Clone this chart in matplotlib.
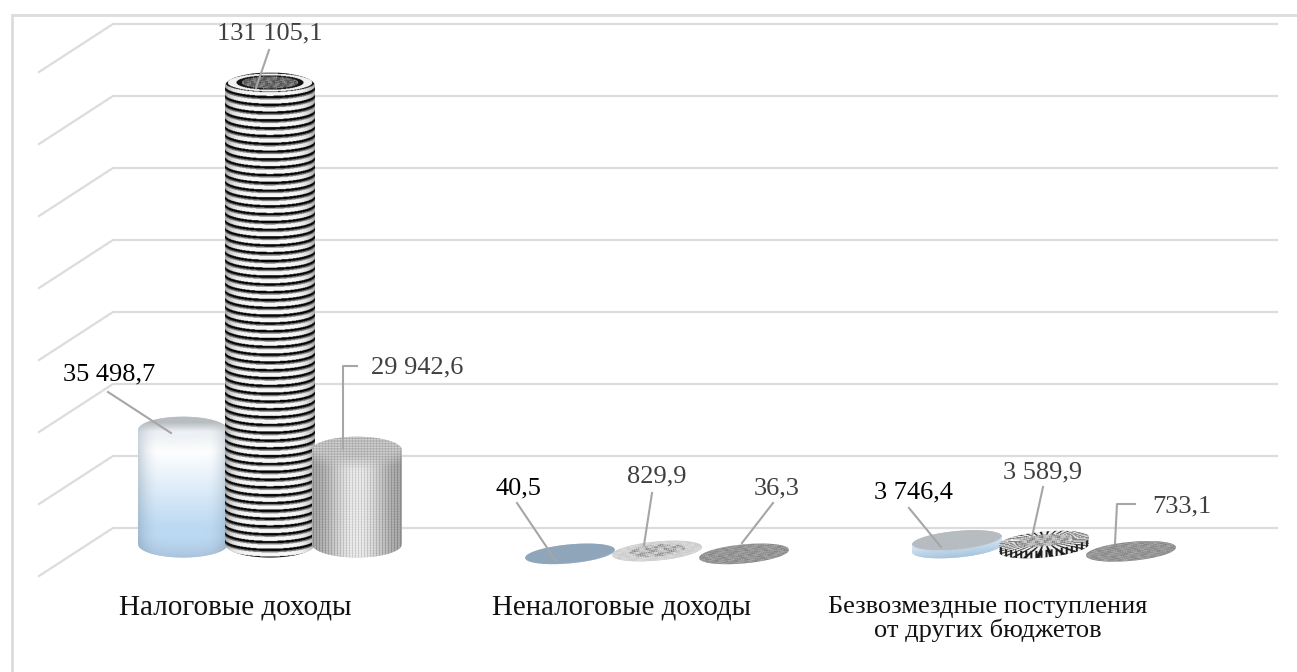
import numpy as np
import matplotlib
matplotlib.use("Agg")
import matplotlib.pyplot as plt
from matplotlib.path import Path
from matplotlib.patches import PathPatch

# ---- data ----
categories = ["Налоговые доходы", "Неналоговые доходы",
              "Безвозмездные поступления\nот других бюджетов"]
series_a = [35498.7, 40.5, 3746.4]
series_b = [131105.1, 829.9, 3589.9]
series_c = [29942.6, 36.3, 733.1]
labels_a = ["35 498,7", "40,5", "3 746,4"]
labels_b = ["131 105,1", "829,9", "3 589,9"]
labels_c = ["29 942,6", "36,3", "733,1"]
gridvalues = [0, 20000, 40000, 60000, 80000, 100000, 120000, 140000]

# ---- layout in pixels -> data scale ----
W, H = 1297, 672
PX_PER_UNIT = 72 / 20000
ZERO_PX = 554
GROUP0_PX, GROUP_STEP = 270, 387
BAR_STEP = 87
BAR_W = 90
BACK_DEPTH = 26  # pixels the back wall sits above the value plane


def X(px):
    return (np.asarray(px, float) - GROUP0_PX) / GROUP_STEP


def Y(py):
    return (ZERO_PX - np.asarray(py, float)) / PX_PER_UNIT


def dy(px):
    return px / PX_PER_UNIT


fig = plt.figure(figsize=(W / 100, H / 100), dpi=100)
ax = fig.add_axes([0, 0, 1, 1])
ax.set_axis_off()
xlim = (X(0), X(W))
ylim = (Y(H), Y(0))
plt.rcParams["font.family"] = ["Liberation Serif", "DejaVu Serif"]

GRID = "#dcdcdc"
# frame: reference shows the top and left rules only
ax.plot([X(11.5), X(11.5), X(W)], [Y(H), Y(14.5), Y(14.5)], color=GRID, lw=2.0, zorder=0.5,
        solid_joinstyle="miter")

# back wall + side wall gridlines
for g in gridvalues:
    yb = g + dy(BACK_DEPTH)
    ax.plot([X(39), X(113), X(1277)], [yb - dy(48), yb, yb],
            color=GRID, lw=1.6, zorder=1, solid_joinstyle="miter")


def speckle(xx, yy, a, b):
    return 0.5 + 0.5 * np.sin(xx * a + np.sin(yy * b) * 3.1) * np.cos(yy * b * 1.7 + np.sin(xx * a * 0.6) * 2.3)


def lerp(c0, c1, t):
    t = np.clip(t, 0, 1)[..., None]
    return np.array(c0) * (1 - t) + np.array(c1) * t


def hexc(s):
    return [int(s[i:i + 2], 16) / 255 for i in (1, 3, 5)]


def mix(a, b, t):
    t = np.clip(t, 0, 1)[..., None]
    return a * (1 - t) + np.asarray(b) * t


def shade(style, u, yy, xx, tc, bc, b, tilt):
    yl = yy + tilt * u
    rad = np.sqrt(u ** 2 + ((yl - tc) / b) ** 2)
    top = rad < 1
    t = (yl - tc) / max(bc - tc, 1)
    arc = b * np.sqrt(np.clip(1 - u ** 2, 0, 1))
    short = bc - tc < 20
    if style == "glass":
        rgb = lerp(hexc("#ffffff"), hexc("#bcd9f2"), (t - 0.2) / 0.62)
        low = np.clip((yl - arc - (bc - 22)) / 24, 0, 1)
        rgb = mix(rgb, hexc("#a6bfd6"), low ** 1.5)
        edge = np.clip((np.abs(u) - 0.5) / 0.5, 0, 1) ** 2
        rgb = mix(rgb, hexc("#7e93a8"), edge * 0.42)
        if short:
            rgb = lerp(hexc("#dcebf7"), hexc("#a9c6df"), (yl - tc) / (bc - tc + 9))
            flat = hexc("#8fa6bb") if bc - tc < 2 else hexc("#b7bcc1")
            rgb = np.where(top[..., None], np.array(flat), rgb)
        else:
            sh = np.clip((yl - arc - tc) / 18, 0, 1)
            rgb = mix(hexc("#edf1f5") * np.ones_like(rgb), rgb, sh)
            rgb = mix(rgb, hexc("#8e9baa"), edge * 0.42 * (1 - sh))
            rgb = mix(rgb, hexc("#b8bdc2"), np.clip((tc + 5 - yl) / 9, 0, 1))
    elif style == "stripes":
        ph = np.mod((yl - arc) / 7.8, 1.0)
        v = np.where(ph < 0.30, 0.03, np.where(ph < 0.48, 0.5, 0.97))
        v = v * (1 - 0.35 * np.abs(u) ** 6)
        ring = np.mod(rad * 3.2, 1)
        vt = np.where(ring < 0.4, 0.08, 0.95)
        vt = np.where(rad < 0.62, 0.15 + 0.55 * speckle(xx, yy, 2.2, 2.6), vt)
        v = np.where(top, vt, v)
        rgb = np.dstack([v, v, v])
    elif style == "dots":
        g = 0.66 + 0.26 * np.cos(u * np.pi / 2) ** 2
        px = 0.5 + 0.5 * np.cos(xx * 2 * np.pi / 3.0)
        py = 0.5 + 0.5 * np.cos(yy * 2 * np.pi / 2.6)
        v = g - 0.14 * (1 - px) + 0.12 * px * py
        sh = np.clip((yl - arc - tc) / 14, 0, 1)
        v = v * sh + (0.72 + 0.16 * py - 0.12 * (1 - px)) * (1 - sh)
        rgb = np.dstack([v, v, v])
    elif style == "speck_light":
        s = speckle(xx, yy, 1.7, 2.3)
        v = 0.9 - 0.14 * s
        v = np.where(rad < 0.62, 0.88 - 0.72 * s ** 3, v)
        rgb = np.dstack([v, v, v])
    elif style == "speck_dark":
        s = speckle(xx, yy, 1.6, 2.1)
        v = 0.74 - 0.30 * s
        rgb = np.dstack([v, v, v])
    else:  # spokes
        ang = np.arctan2((yl - tc) / b, u)
        sp = 0.5 + 0.5 * np.cos(ang * 36)
        v = np.where(sp > 0.22, 0.95, 0.10)
        v = np.where(rad < 0.6, 0.84 - 0.72 * speckle(xx, yy, 1.9, 2.5) ** 3, v)
        v = np.where(~top & (np.mod(xx, 5) < 1.8), 0.12, v)
        rgb = np.dstack([v, v, v])
    return np.clip(rgb, 0, 1)


def cylinder(cx_data, value, style, z):
    cx = GROUP0_PX + cx_data * GROUP_STEP
    a = BAR_W / 2
    b = 9.5
    short = value < 10000
    tilt = 4.0 if short else 0.0
    tc = ZERO_PX - value * PX_PER_UNIT
    bc = ZERO_PX - min(value * PX_PER_UNIT, 6)
    uu = np.linspace(-1, 1, 121)
    s = np.sqrt(1 - uu ** 2)
    extra = 0.0 if short else 4.0  # rounded bevel on tall columns
    top_y = (tc + extra) - (b + extra) * s - tilt * uu
    bot_y = (bc - extra) + (b + extra) * s - tilt * uu
    xs = np.r_[cx + a * uu, (cx + a * uu)[::-1]]
    ys = np.r_[top_y, bot_y[::-1]]
    verts = np.c_[X(xs), Y(ys)]
    patch = PathPatch(Path(np.r_[verts, verts[:1]], closed=True), fc="#c8c8c8", ec="none", zorder=z)
    ax.add_patch(patch)
    x0, x1 = cx - a, cx + a
    y0, y1 = ys.min() - 1, ys.max() + 1
    nx, ny = int((x1 - x0) * 2), int((y1 - y0) * 2)
    xx, yy = np.meshgrid(x0 + (np.arange(nx) + .5) / 2, y0 + (np.arange(ny) + .5) / 2)
    u = (xx - cx) / a
    img = shade(style, u, yy, xx, tc, bc, b, tilt)
    im = ax.imshow(img, extent=(float(X(x0)), float(X(x1)), float(Y(y1)), float(Y(y0))), aspect="auto",
                   origin="upper", zorder=z + 0.1, interpolation="antialiased")
    im.set_clip_path(patch)


offset = BAR_STEP / GROUP_STEP
styles_a = ["glass", "glass", "glass"]
styles_b = ["stripes", "speck_light", "spokes"]
styles_c = ["dots", "speck_dark", "speck_dark"]
for i in range(3):
    cylinder(i - offset, series_a[i], styles_a[i], 3 + i)
    cylinder(i, series_b[i], styles_b[i], 3.2 + i)
    cylinder(i + offset, series_c[i], styles_c[i], 3.4 + i)

# category labels
TXT = dict(family=["Liberation Serif", "DejaVu Serif"], ha="center", va="center", zorder=12)
cat_px = [235, 621, 988]
cat_py = [607, 607, 619]
cat_fs = [21, 20.8, 19]
for c, px, py, fs in zip(categories, cat_px, cat_py, cat_fs):
    ax.text(X(px), Y(py), c, fontsize=fs, color="#111111", linespacing=1.0, **TXT)

# data labels + leader lines
LEADER = "#a6a6a6"
annots = [
    (labels_a[0], 109, 374, "#000000", [(108, 392), (171, 433)]),
    (labels_b[0], 270, 33, "#404040", [(269, 50), (256, 88)]),
    (labels_c[0], 417, 367, "#404040", [(357, 366), (343, 366), (343, 449)]),
    (labels_a[1], 518, 488, "#000000", [(517, 503), (556, 561)]),
    (labels_b[1], 657, 476, "#404040", [(652, 493), (644, 545)]),
    (labels_c[1], 777, 488, "#404040", [(773, 503), (742, 543)]),
    (labels_a[2], 913, 492, "#000000", [(909, 508), (941, 547)]),
    (labels_b[2], 1043, 472, "#404040", [(1043, 487), (1032, 537)]),
    (labels_c[2], 1182, 506, "#404040", [(1135, 504), (1117, 504), (1115, 543)]),
]
for txt, px, py, col, pts in annots:
    ax.text(X(px), Y(py), txt, fontsize=19, color=col, **TXT)
    arr = np.array(pts, float)
    ax.plot(X(arr[:, 0]), Y(arr[:, 1]), color=LEADER, lw=1.5, zorder=11)

ax.set_xlim(*xlim)
ax.set_ylim(*ylim)
fig.savefig("out.png", dpi=100, facecolor="white")
